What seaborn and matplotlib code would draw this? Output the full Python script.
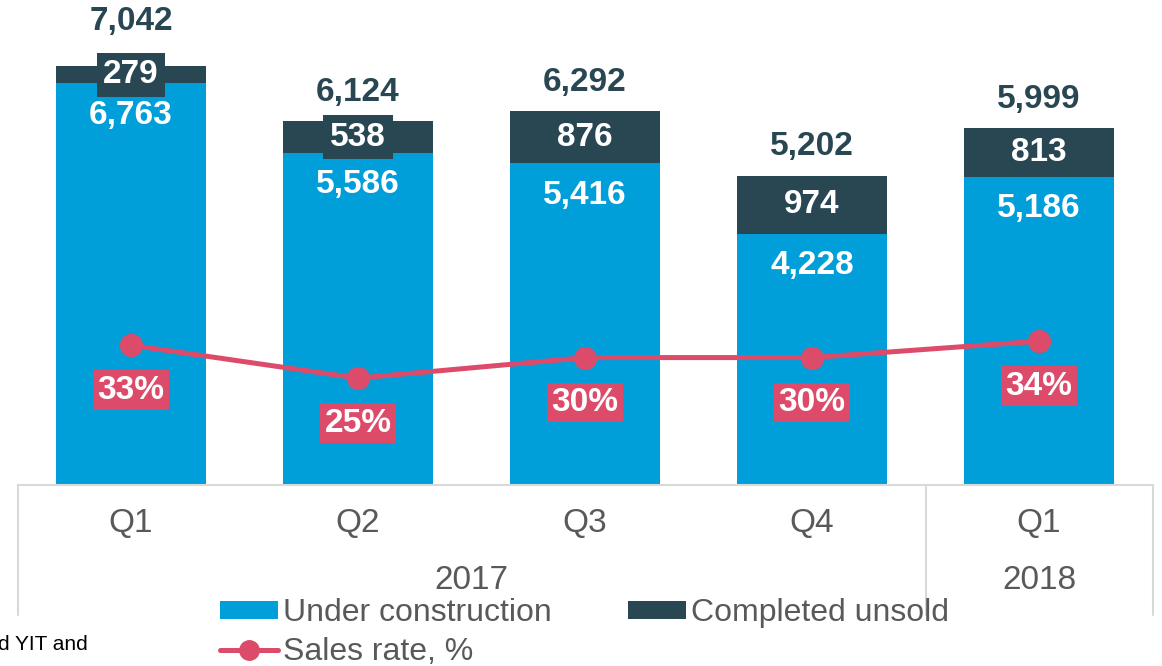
import matplotlib
matplotlib.use("Agg")
import matplotlib.pyplot as plt
from matplotlib.patches import Patch
from matplotlib.lines import Line2D
import seaborn as sns
import numpy as np

# ---- data ----
quarters = ["Q1", "Q2", "Q3", "Q4", "Q1"]
years = ["2017", "2017", "2017", "2017", "2018"]
under_construction = [6763, 5586, 5416, 4228, 5186]
completed_unsold = [279, 538, 876, 974, 813]
sales_rate = [33, 25, 30, 30, 34]

# ---- styling ----
BLUE = "#009FDA"
DARK = "#294753"
PINK = "#DD4B6A"
GRAY = "#595959"
GRID = "#D9D9D9"

sns.set_style("white")
plt.rcParams["font.family"] = ["Liberation Sans", "DejaVu Sans"]

keys = [f"{q} {y}" for q, y in zip(quarters, years)]
totals = [u + c for u, c in zip(under_construction, completed_unsold)]
n = len(keys)

fig = plt.figure(figsize=(11.62, 6.66), dpi=100)
W, H = 1162, 666
ax = fig.add_axes([17.5 / W, (H - 485) / H, 1135 / W, 485 / H])

sns.barplot(x=keys, y=totals, color=DARK, width=0.66, saturation=1,
            linewidth=0, ax=ax)
sns.barplot(x=keys, y=under_construction, color=BLUE, width=0.66,
            saturation=1, linewidth=0, ax=ax)

ax.set_ylim(0, 8160)
ax.set_xlim(-0.5, n - 0.5)
ax.set_yticks([])
ax.set_ylabel("")
ax.set_xlabel("")
ax.set_xticks(range(n))
ax.set_xticklabels(quarters)
ax.tick_params(axis="x", length=0, pad=16.5, labelsize=24, labelcolor=GRAY)
for s in ["top", "left", "right"]:
    ax.spines[s].set_visible(False)
ax.spines["bottom"].set_color(GRID)
ax.spines["bottom"].set_linewidth(1.5)

# table-like separators under axis
bounds = [-0.5]
for i in range(1, n):
    if years[i] != years[i - 1]:
        bounds.append(i - 0.5)
bounds.append(n - 0.5)
xt = ax.get_xaxis_transform()
for b in bounds:
    ax.plot([b, b], [0, -0.268], transform=xt, clip_on=False, color=GRID, lw=1.5)

# year labels
for yr in sorted(set(years)):
    idx = [i for i, y in enumerate(years) if y == yr]
    ax.text(np.mean(idx), -0.196, yr, transform=xt, ha="center", va="center",
            fontsize=24, color=GRAY)

# value labels
total_offsets_px = [45, 29, 29, 29, 29]
for i in range(n):
    ax.annotate(f"{totals[i]:,}", xy=(i, totals[i]),
                xytext=(0, total_offsets_px[i] * 0.72), textcoords="offset points",
                ha="center", va="center", fontsize=24, fontweight="bold", color=DARK)
    ax.annotate(f"{under_construction[i]:,}", xy=(i, under_construction[i]),
                xytext=(0, -32 * 0.72), textcoords="offset points",
                ha="center", va="center", fontsize=24, fontweight="bold", color="white")
    ax.annotate(f"{completed_unsold[i]:,}",
                xy=(i, under_construction[i] + completed_unsold[i] / 2),
                ha="center", va="center", fontsize=24, fontweight="bold", color="white",
                bbox=dict(boxstyle="square,pad=0.2", fc=DARK, ec="none"))

# sales rate line on secondary axis
ax2 = ax.twinx()
sns.pointplot(x=keys, y=sales_rate, color=PINK, markers="o", linestyles="-",
              errorbar=None, markersize=14, linewidth=3.6, ax=ax2)
ax2.set_ylim(-1, 117)
ax2.set_xlim(-0.5, n - 0.5)
ax2.set_yticks([])
ax2.set_ylabel("")
ax2.set_xlabel("")
for s in ax2.spines.values():
    s.set_visible(False)
for i in range(n):
    ax2.annotate(f"{sales_rate[i]}%", xy=(i, sales_rate[i]),
                 xytext=(0, -45 * 0.72), textcoords="offset points",
                 ha="center", va="center", fontsize=24, fontweight="bold", color="white",
                 bbox=dict(boxstyle="square,pad=0.13", fc=PINK, ec="none"))

# legend
handles = [Patch(facecolor=BLUE, edgecolor="none"),
           Line2D([], [], color=PINK, lw=3.6, marker="o", markersize=14),
           Patch(facecolor=DARK, edgecolor="none")]
labels = ["Under construction", "Sales rate, %", "Completed unsold"]
leg = fig.legend(handles, labels, ncol=2, loc="upper left",
                 bbox_to_anchor=(220 / W, 1 - 598 / H), frameon=False,
                 fontsize=23, handlelength=1.8, handleheight=0.5,
                 handletextpad=0.16, columnspacing=2.4, labelspacing=0.28,
                 borderpad=0, borderaxespad=0)
for t in leg.get_texts():
    t.set_color(GRAY)

fig.text(-2 / W, 1 - 644 / H, "d YIT and", fontsize=15, color="black",
         ha="left", va="center")

fig.savefig("out.png", dpi=100)
